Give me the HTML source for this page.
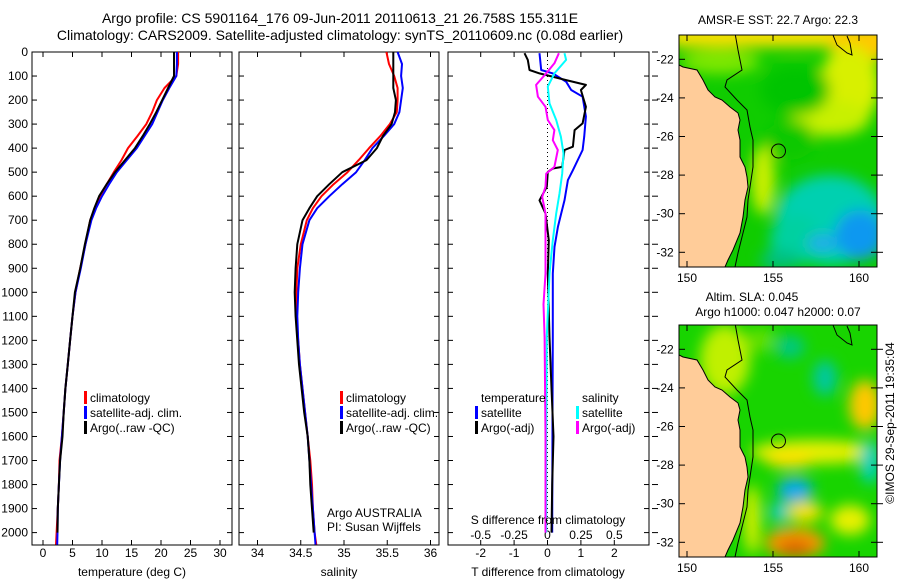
<!DOCTYPE html>
<html><head><meta charset="utf-8"><title>Argo profile</title>
<style>
html,body{margin:0;padding:0;background:#fff;}
svg{display:block;font-family:"Liberation Sans",sans-serif;}
text{fill:#000;}
</style></head>
<body>
<svg id="chart" width="900" height="580" viewBox="0 0 900 580" xmlns="http://www.w3.org/2000/svg">
<defs>
  <filter id="blur" x="-50%" y="-50%" width="200%" height="200%"><feGaussianBlur stdDeviation="7"/></filter>
  <clipPath id="clipTop"><rect x="679" y="35" width="198" height="232"/></clipPath>
  <clipPath id="clipBot"><rect x="679" y="325" width="198" height="232"/></clipPath>
</defs>
<rect x="0" y="0" width="900" height="580" fill="#fff"/>
<text x="340" y="23" font-size="14" text-anchor="middle">Argo profile: CS 5901164_176 09-Jun-2011 20110613_21 26.758S 155.311E</text>
<text x="340" y="40" font-size="14" text-anchor="middle">Climatology: CARS2009. Satellite-adjusted climatology: synTS_20110609.nc (0.08d earlier)</text>

<g id="panels"></g>

<!-- Top map: SST -->
<g>
  <text x="778" y="24" font-size="12" text-anchor="middle">AMSR-E SST: 22.7 Argo: 22.3</text>
  <g clip-path="url(#clipTop)">
    <rect x="679" y="35" width="198" height="232" fill="#10cc00"/>
    <g filter="url(#blur)">
      <rect x="670" y="25" width="220" height="22" fill="#ffe000"/>
      <ellipse cx="860" cy="45" rx="30" ry="20" fill="#ffc800"/>
      <ellipse cx="720" cy="62" rx="40" ry="12" fill="#80e800"/>
      <ellipse cx="850" cy="85" rx="30" ry="40" fill="#d8f000"/>
      <ellipse cx="830" cy="118" rx="40" ry="18" fill="#c8f000"/>
      <ellipse cx="795" cy="90" rx="35" ry="25" fill="#00c400"/>
      <ellipse cx="763" cy="180" rx="12" ry="35" fill="#ccf000"/>
      <ellipse cx="790" cy="140" rx="25" ry="20" fill="#08c800"/>
      <ellipse cx="830" cy="220" rx="55" ry="45" fill="#00d0b0"/>
      <ellipse cx="795" cy="240" rx="25" ry="25" fill="#00d0a0"/>
      <ellipse cx="860" cy="235" rx="25" ry="25" fill="#1098f0"/>
      <ellipse cx="822" cy="243" rx="15" ry="8" fill="#20a8f0"/>
      <ellipse cx="780" cy="260" rx="20" ry="10" fill="#00c080"/>
    </g>
    <polygon points="679,65 683,67 697,70 703,80 708,90 715,97 722,100 730,107 738,113 740,120 738,130 740,140 740,157 745,167 747,177 748,187 745,200 743,217 740,233 733,250 728,260 725,267 679,267" fill="#ffcc99" stroke="#000" stroke-width="1"/>
    <polyline points="735,33 738,50 742,70 727,80 725,87 737,100 747,110 750,127 753,140 753,157 753,167 750,187 748,200 747,217 743,233 738,253 735,267" fill="none" stroke="#000" stroke-width="1"/>
    <polyline points="833,35 837,45 847,53 852,55 850,43 847,36" fill="none" stroke="#000" stroke-width="1"/>
    <circle cx="778.5" cy="151" r="7" fill="none" stroke="#000" stroke-width="1"/>
  </g>
  <rect x="679" y="35" width="198" height="232" fill="none" stroke="#000" stroke-width="1"/>
  <g id="topMapAxes"></g>
</g>

<!-- Bottom map: SLA -->
<g>
  <text x="752" y="301" font-size="12" text-anchor="middle">Altim. SLA: 0.045</text>
  <text x="778" y="316" font-size="12" text-anchor="middle">Argo h1000: 0.047 h2000: 0.07</text>
  <g clip-path="url(#clipBot)">
    <rect x="679" y="325" width="198" height="232" fill="#18d400"/>
    <g filter="url(#blur)">
      <ellipse cx="725" cy="360" rx="25" ry="35" fill="#c0f000"/>
      <ellipse cx="760" cy="340" rx="15" ry="12" fill="#60e000"/>
      <ellipse cx="825" cy="378" rx="12" ry="18" fill="#00c8a0"/>
      <ellipse cx="865" cy="405" rx="16" ry="25" fill="#ffc800"/>
      <ellipse cx="790" cy="347" rx="15" ry="12" fill="#00c880"/>
      <ellipse cx="815" cy="452" rx="65" ry="12" fill="#e8f000"/>
      <ellipse cx="790" cy="460" rx="25" ry="8" fill="#ffe000"/>
      <ellipse cx="870" cy="462" rx="10" ry="22" fill="#00d0c0"/>
      <ellipse cx="795" cy="490" rx="18" ry="12" fill="#10a8f0"/>
      <ellipse cx="780" cy="512" rx="10" ry="10" fill="#00c8d0"/>
      <ellipse cx="805" cy="512" rx="18" ry="10" fill="#ffe000"/>
      <ellipse cx="850" cy="520" rx="20" ry="15" fill="#e8f000"/>
      <ellipse cx="795" cy="543" rx="30" ry="15" fill="#ff9800"/>
      <ellipse cx="795" cy="548" rx="18" ry="8" fill="#d86000"/>
      <ellipse cx="752" cy="520" rx="8" ry="35" fill="#e0f000"/>
    </g>
    <polygon points="679,355 683,357 697,360 703,370 708,380 715,387 722,390 730,397 738,403 740,410 738,420 740,430 740,447 745,457 747,467 748,477 745,490 743,507 740,523 733,540 728,550 725,557 679,557" fill="#ffcc99" stroke="#000" stroke-width="1"/>
    <polyline points="735,323 738,340 742,360 727,370 725,377 737,390 747,400 750,417 753,430 753,447 753,457 750,477 748,490 747,507 743,523 738,543 735,557" fill="none" stroke="#000" stroke-width="1"/>
    <polyline points="833,325 837,335 847,343 852,345 850,333 847,326" fill="none" stroke="#000" stroke-width="1"/>
    <circle cx="778.5" cy="441" r="7" fill="none" stroke="#000" stroke-width="1"/>
  </g>
  <rect x="679" y="325" width="198" height="232" fill="none" stroke="#000" stroke-width="1"/>
  <g id="botMapAxes"></g>
</g>
<text transform="translate(894,423) rotate(-90)" font-size="12" text-anchor="middle">©IMOS 29-Sep-2011 19:35:04</text>
</svg>

<script>
// ---------- data ----------
const depthTicks = [0,100,200,300,400,500,600,700,800,900,1000,1100,1200,1300,1400,1500,1600,1700,1800,1900,2000];
const profDepth = [0,50,100,150,200,250,300,350,400,450,500,550,600,650,700,800,900,1000,1100,1200,1300,1400,1500,1600,1700,1800,1900,2000,2050];
const tempClim = [22.9,22.9,22.6,20.6,19.3,18.5,17.5,16.0,14.4,13.3,12.0,10.8,9.7,8.8,8.0,7.2,6.3,5.5,5.0,4.6,4.2,3.8,3.5,3.2,2.8,2.7,2.5,2.3,2.2];
const tempSat = [22.7,22.7,22.6,21.4,20.3,19.4,18.5,17.2,15.9,14.2,12.5,11.2,10.0,9.0,8.2,7.2,6.4,5.5,5.0,4.6,4.2,3.8,3.5,3.2,2.9,2.7,2.5,2.45,2.4];
const tempArgo = [22.2,22.2,22.2,21.2,20.2,19.2,18.1,16.9,15.6,13.9,12.2,10.8,9.5,8.7,8.0,7.1,6.3,5.4,5.0,4.6,4.2,3.8,3.5,3.3,2.9,2.7,2.5,2.45];
const salClim = [35.49,35.52,35.58,35.62,35.62,35.61,35.53,35.42,35.29,35.17,35.04,34.88,34.74,34.64,34.57,34.50,34.46,34.45,34.45,34.47,34.49,34.52,34.55,34.58,34.61,34.63,34.64,34.66,34.68];
const salSat = [35.62,35.67,35.66,35.68,35.66,35.64,35.58,35.46,35.33,35.24,35.14,34.98,34.83,34.69,34.60,34.52,34.49,34.47,34.46,34.47,34.49,34.52,34.55,34.58,34.60,34.62,34.64,34.66,34.67];
const salArgo = [35.57,35.57,35.57,35.57,35.60,35.59,35.55,35.45,35.38,35.26,34.98,34.83,34.69,34.60,34.52,34.46,34.44,34.43,34.44,34.46,34.48,34.51,34.54,34.58,34.60,34.61,34.63,34.65];
const tdiffArgoDepth = [5,33,75,89,117,137,158,228,297,325,394,408,478,485,499,561,617,672,783,922,1186,1400,1600,1800,2000];
const tdiffArgo = [-0.69,-0.59,-0.54,-0.24,0.56,1.15,1.0,1.15,1.05,0.81,0.76,0.51,0.44,0.16,0.01,-0.02,-0.24,-0.06,0.04,0.01,0.06,0.12,0.18,0.14,0.12];
const tdiffSatDepth = [5,75,89,124,158,186,269,353,408,492,533,617,672,728,811,922,1186,1500,2000];
const tdiffSat = [-0.24,-0.19,0.16,0.56,0.71,1.05,1.15,1.10,1.05,0.76,0.61,0.51,0.41,0.31,0.21,0.16,0.16,0.15,0.14];
const sdiffSatDepth = [5,33,89,144,214,283,353,422,506,589,672,783,922,1186,1600,2000];
const sdiffSat = [0.127,0.139,0.052,0.002,0.015,0.065,0.10,0.12,0.11,0.09,0.065,0.04,0.015,-0.005,-0.01,-0.01];
const sdiffArgoDepth = [5,47,89,137,186,228,283,325,367,408,478,506,561,603,672,783,922,1050,1186,1600,2000];
const sdiffArgo = [0.085,0.052,-0.01,-0.085,-0.072,-0.015,0.002,0.052,0.04,0.077,0.052,-0.01,-0.015,-0.04,-0.015,-0.015,-0.015,-0.03,-0.022,-0.015,-0.015];
const tempTicks = [0,5,10,15,20,25,30];
const salTicks = [34,34.5,35,35.5,36];
const salTickLabels = ['34','34.5','35','35.5','36'];
const tdiffTicks = [-2,-1,0,1,2];
const sdiffTicks = [-0.5,-0.25,0,0.25,0.5];
const sdiffTickLabels = ['-0.5','-0.25','0','0.25','0.5'];
const lonTicks = [150,155,160];
const latTicks = [-22,-24,-26,-28,-30,-32];

// ---------- scales ----------
const NS='http://www.w3.org/2000/svg';
const Y0=52, YPX=0.2403, YBOT=545;
function yD(d){return Y0+d*YPX;}
function xT(t){return 43+t*5.9;}
function xS(s){return 257.5+(s-34)*86.5;}
function xTd(t){return 547.5+t*33.4;}
function xSd(s){return 547.5+s*133.6;}
function lonX(l){return 687+(l-150)*17.2;}
function latY(l,off){return 59.3+(-22-l)*19.3+off;}

const root=document.getElementById('panels');
function mk(tag,attrs,parent){const e=document.createElementNS(NS,tag);for(const k in attrs)e.setAttribute(k,attrs[k]);(parent||root).appendChild(e);return e;}
function txt(x,y,s,size,anchor,parent){const e=mk('text',{x:x,y:y,'font-size':size,'text-anchor':anchor||'middle'},parent);e.textContent=s;return e;}

function frame(x0,x1,name){
  const g=mk('g',{});
  
  
  const r=mk('rect',{x:x0,y:Y0,width:x1-x0,height:YBOT-Y0,fill:'none',stroke:'#000','stroke-width':1},g);
  
  
  depthTicks.forEach(d=>{
    mk('line',{x1:x0,x2:x0+5,y1:yD(d),y2:yD(d),stroke:'#000'},g);
    mk('line',{x1:x1-5,x2:x1,y1:yD(d),y2:yD(d),stroke:'#000'},g);
  });
  return g;
}
function xticks(g,ticks,fx,labels,ly){
  ticks.forEach((t,i)=>{
    const x=fx(t);
    mk('line',{x1:x,x2:x,y1:Y0,y2:Y0+5,stroke:'#000'},g);
    mk('line',{x1:x,x2:x,y1:YBOT-5,y2:YBOT,stroke:'#000'},g);
    const l=txt(x,ly,labels?labels[i]:String(t),12,'middle',g);
    
    
  });
}
function line(g,xs,ds,fx,color,w,name){
  const pts=xs.map((v,i)=>fx(v).toFixed(1)+','+yD(ds[i]).toFixed(1)).join(' ');
  const p=mk('polyline',{points:pts,fill:'none',stroke:color,'stroke-width':w,'stroke-linejoin':'round'},g);
  
  
}
function legend(g,x,y,color,label){
  if(color){const b=mk('rect',{x:x-6,y:y-10,width:3,height:13,fill:color},g);
    
    }
  const t=txt(x,y+1,label,12,'start',g);
  
  
}

// depth labels
const ylab=mk('g',{});


depthTicks.forEach(d=>{const t=txt(28,yD(d)+4,String(d),12,'end',ylab);
  
  });

// Panel 1 temperature
const g1=frame(32,232,'temperature-panel');
xticks(g1,tempTicks,xT,null,557);
line(g1,tempClim,profDepth,xT,'#ff0000',2,'temp-climatology-line');
line(g1,tempSat,profDepth,xT,'#0000ff',2,'temp-satellite-line');
line(g1,tempArgo,profDepth.slice(0,tempArgo.length),xT,'#000000',2,'temp-argo-line');
const t1=txt(132,576,'temperature (deg C)',12,'middle',g1);


legend(g1,90,401,'#ff0000','climatology');
legend(g1,90,416,'#0000ff','satellite-adj. clim.');
legend(g1,90,431,'#000000','Argo(..raw -QC)');

// Panel 2 salinity
const g2=frame(239,439,'salinity-panel');
xticks(g2,salTicks,xS,salTickLabels,557);
line(g2,salClim,profDepth,xS,'#ff0000',2,'sal-climatology-line');
line(g2,salSat,profDepth,xS,'#0000ff',2,'sal-satellite-line');
line(g2,salArgo,profDepth.slice(0,salArgo.length),xS,'#000000',2,'sal-argo-line');
const t2=txt(339,576,'salinity',12,'middle',g2);


legend(g2,346,401,'#ff0000','climatology');
legend(g2,346,416,'#0000ff','satellite-adj. clim.');
legend(g2,346,431,'#000000','Argo(..raw -QC)');
const a1=txt(327,517,'Argo AUSTRALIA',12,'start',g2);


const a2=txt(327,531,'PI: Susan Wijffels',12,'start',g2);



// Panel 3 differences
const g3=frame(448,649,'difference-panel');
depthTicks.forEach(d=>mk('line',{x1:652,x2:658,y1:yD(d),y2:yD(d),stroke:'#000'},g3));
xticks(g3,tdiffTicks,xTd,null,557);
sdiffTicks.forEach((s,i)=>{const l=txt(xSd(s),539,sdiffTickLabels[i],12,'middle',g3);
  
  });
const z=mk('line',{x1:xTd(0),x2:xTd(0),y1:Y0,y2:530,stroke:'#000','stroke-dasharray':'1,3'},g3);


line(g3,tdiffSat,tdiffSatDepth,xTd,'#0000ff',2,'tdiff-satellite-line');
line(g3,tdiffArgo,tdiffArgoDepth,xTd,'#000000',2,'tdiff-argo-line');
line(g3,sdiffSat,sdiffSatDepth,xSd,'#00ffff',2,'sdiff-satellite-line');
line(g3,sdiffArgo,sdiffArgoDepth,xSd,'#ff00ff',2,'sdiff-argo-line');
const t3=txt(548,576,'T difference from climatology',12,'middle',g3);


const t4=txt(548,524,'S difference from climatology',12,'middle',g3);


legend(g3,481,401,null,'temperature');
legend(g3,481,416,'#0000ff','satellite');
legend(g3,481,431,'#000000','Argo(-adj)');
legend(g3,582,401,null,'salinity');
legend(g3,582,416,'#00ffff','satellite');
legend(g3,582,431,'#ff00ff','Argo(-adj)');

// map axes
function mapAxes(id,off){
  const g=document.getElementById(id);
  lonTicks.forEach(l=>{
    const x=lonX(l);
    mk('line',{x1:x,x2:x,y1:35+off,y2:41+off,stroke:'#000'},g);
    mk('line',{x1:x,x2:x,y1:261+off,y2:267+off,stroke:'#000'},g);
    const t=txt(x,282+off,String(l),12,'middle',g);
    
    
  });
  latTicks.forEach(l=>{
    const y=latY(l,off);
    mk('line',{x1:679,x2:685,y1:y,y2:y,stroke:'#000'},g);
    mk('line',{x1:871,x2:883,y1:y,y2:y,stroke:'#000'},g);
    const t=txt(665,y+4,String(l),12,'middle',g);
    
    
  });
}
mapAxes('topMapAxes',0);
mapAxes('botMapAxes',290);
</script>
</body></html>
